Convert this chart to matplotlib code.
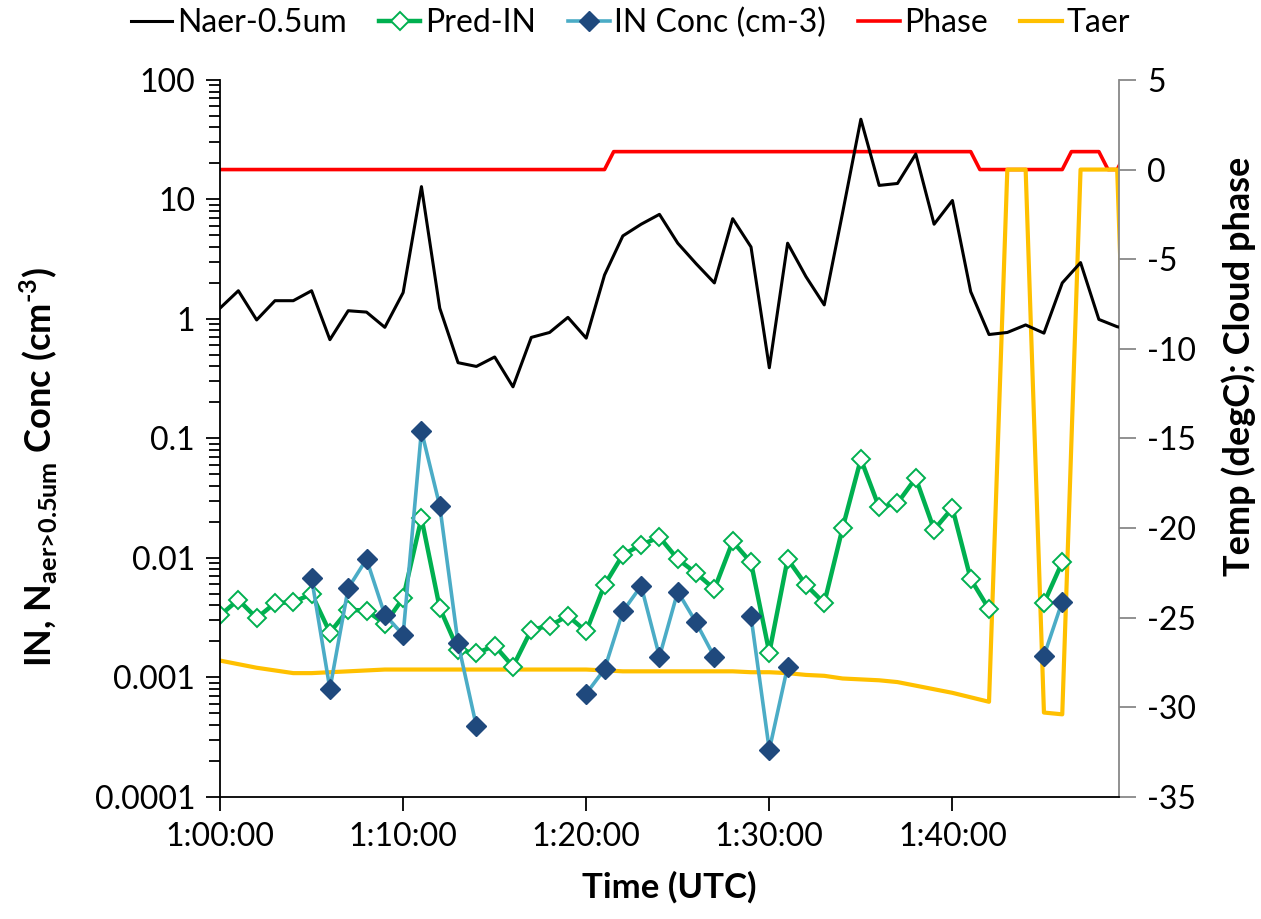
import matplotlib
matplotlib.use('Agg')
import matplotlib.pyplot as plt
import numpy as np
from matplotlib.ticker import FixedLocator, FuncFormatter, LogLocator, NullFormatter

plt.rcParams['font.family'] = ['Lato', 'DejaVu Sans']
plt.rcParams['mathtext.fontset'] = 'custom'
plt.rcParams['mathtext.rm'] = 'Lato:bold'
plt.rcParams['mathtext.bf'] = 'Lato:bold'
plt.rcParams['axes.unicode_minus'] = False

nan = np.nan

# minutes after 1:00:00 UTC
minutes = np.arange(0, 51)

naer = [1.23, 1.72, 0.98, 1.42, 1.42, 1.72, 0.67, 1.17, 1.14, 0.85,
        1.66, 12.8, 1.23, 0.43, 0.40, 0.48, 0.27, 0.70, 0.77, 1.03,
        0.69, 2.33, 4.95, 6.2, 7.5, 4.3, 2.9, 2.0, 6.9, 4.0,
        0.39, 4.3, 2.26, 1.31, 7.7, 46.9, 13.1, 13.6, 24.0, 6.2,
        9.8, 1.69, 0.74, 0.77, 0.89, 0.76, 2.0, 2.96, 0.99, 0.86,
        0.80]

pred_in = [0.0033, 0.00446, 0.00313, 0.00418, 0.00425, 0.0050, 0.00237, 0.00367, 0.00362, 0.0028,
           0.0046, 0.0215, 0.0038, 0.0017, 0.00159, 0.00184, 0.00123, 0.0025, 0.0027, 0.00327,
           0.00242, 0.00594, 0.0106, 0.01285, 0.0149, 0.00975, 0.00745, 0.00547, 0.0137, 0.00914,
           0.00161, 0.00975, 0.00594, 0.00418, 0.0177, 0.067, 0.0264, 0.0287, 0.0465, 0.0172,
           0.0261, 0.00663, 0.00372, nan, nan, 0.00418, 0.0092, nan, nan, nan,
           nan]

in_conc = [nan, nan, nan, nan, nan, 0.00676, 0.0008, 0.00557, 0.00975, 0.00333,
           0.00227, 0.1156, 0.0272, 0.00193, 0.00039, nan, nan, nan, nan, nan,
           0.00073, 0.00117, 0.00356, 0.00583, 0.00149, 0.00522, 0.00288, 0.00148, nan, 0.00323,
           0.000247, 0.00123, nan, nan, nan, nan, nan, nan, nan, nan,
           nan, nan, nan, nan, nan, 0.00151, 0.00431, nan, nan, nan,
           nan]

taer = [-27.4, -27.6, -27.8, -27.95, -28.1, -28.1, -28.05, -28.0, -27.95, -27.9,
        -27.9, -27.9, -27.9, -27.9, -27.9, -27.9, -27.9, -27.9, -27.9, -27.9,
        -27.9, -27.95, -28.0, -28.0, -28.0, -28.0, -28.0, -28.0, -28.0, -28.05,
        -28.05, -28.1, -28.2, -28.25, -28.4, -28.45, -28.5, -28.6, -28.8, -29.0,
        -29.2, -29.45, -29.7, 0.0, 0.0, -30.3, -30.4, 0.0, 0.0, 0.0,
        -30.0]

# cloud phase at 30 s resolution around the changes
phase_t = [0, 21, 21.5, 41, 41.5, 46, 46.5, 48, 48.5, 49, 49.5]
phase = [0, 0, 1, 1, 0, 0, 1, 1, 0, 0, 1]

fig = plt.figure(figsize=(12.61, 9.19), dpi=100)
ax = fig.add_axes([0.1745, 0.133, 0.7129, 0.780])
ax2 = ax.twinx()
ax.set_zorder(ax2.get_zorder() + 1)
ax.patch.set_visible(False)

l1, = ax.plot(minutes, naer, color='black', lw=2.2, label='Naer-0.5um')
l2, = ax.plot(minutes, pred_in, color='#00B050', lw=3.2, marker='D', ms=9.5,
              mfc='white', mec='#00B050', mew=1.4, label='Pred-IN')
l3, = ax.plot(minutes, in_conc, color='#4BACC6', lw=2.6, marker='D', ms=10,
              mfc='#1F497D', mec='#1F497D', label='IN Conc (cm-3)')

l4, = ax2.plot(phase_t, phase, color='#FF0000', lw=2.6, label='Phase')
l5, = ax2.plot(minutes, taer, color='#FFC000', lw=3.0, label='Taer')

ax.set_yscale('log')
ax.set_ylim(0.0001, 100)
ax.set_xlim(0, 49.1)
ax2.set_ylim(-35, 5)
ax2.set_yticks(np.arange(-35, 6, 5))

ax.yaxis.set_major_locator(LogLocator(base=10, numticks=10))
ax.yaxis.set_minor_locator(LogLocator(base=10, subs=np.arange(2, 10), numticks=10))
ax.yaxis.set_minor_formatter(NullFormatter())
ax.yaxis.set_major_formatter(FuncFormatter(lambda v, p: ('%g' % v) if v >= 0.001 else '0.0001'))

ax.xaxis.set_major_locator(FixedLocator([0, 10, 20, 30, 40]))
ax.xaxis.set_major_formatter(FuncFormatter(lambda v, p: '1:%02d:00' % int(round(v))))

ax.tick_params(axis='both', which='major', direction='out', length=10, width=1.3,
               labelsize=23, pad=8)
ax.tick_params(axis='y', which='minor', direction='out', length=8, width=1.3)
ax2.tick_params(axis='y', direction='out', length=12, width=1.3, color='#888888',
                labelsize=23, pad=8)

for s in ['top', 'right']:
    ax.spines[s].set_visible(False)
ax.spines['left'].set_linewidth(1.3)
ax.spines['bottom'].set_linewidth(1.3)
ax2.spines['top'].set_visible(False)
ax2.spines['left'].set_visible(False)
ax2.spines['bottom'].set_visible(False)
ax2.spines['right'].set_color('#888888')
ax2.spines['right'].set_linewidth(1.3)

ax.set_xlabel('Time (UTC)', fontsize=25, fontweight='bold', labelpad=14)
ax.set_ylabel(r'IN, N$_{\text{aer>0.5um}}$ Conc (cm$^{\text{-3}}$)',
              fontsize=26, fontweight='bold')
ax.yaxis.set_label_coords(-0.178, 0.46)
ax2.set_ylabel('Temp (degC); Cloud phase', fontsize=26, fontweight='bold')
ax2.yaxis.set_label_coords(1.114, 0.60)

fig.legend(handles=[l1, l2, l3, l4, l5], loc='center', bbox_to_anchor=(0.5, 0.975),
           ncol=5, frameon=False, fontsize=23, handlelength=1.3, handletextpad=0.15,
           columnspacing=1.0, borderaxespad=0)

fig.savefig('out.png', dpi=100, facecolor='white')
